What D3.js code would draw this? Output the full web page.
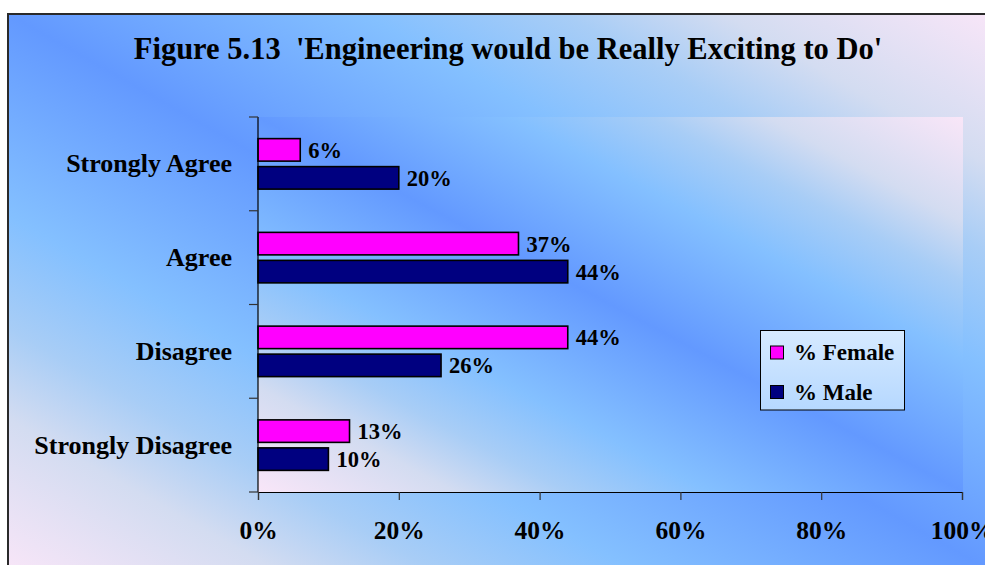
<!DOCTYPE html>
<html>
<head>
<meta charset="utf-8">
<script src="https://cdn.jsdelivr.net/npm/d3@7/dist/d3.min.js"></script>
<style>
  html, body { margin: 0; padding: 0; background: #ffffff; overflow: hidden; }
  svg { display: block; }
  text { font-family: "Liberation Serif", "Times New Roman", Times, serif; font-weight: bold; fill: #000; }
</style>
</head>
<body>
<svg id="chart" width="985" height="565"></svg>
<script>
// ---- data ----
const title = "Figure 5.13  'Engineering would be Really Exciting to Do'";
const categories = ["Strongly Agree", "Agree", "Disagree", "Strongly Disagree"];
const seriesNames = ["% Female", "% Male"];
const femaleValues = [6, 37, 44, 13];
const maleValues = [20, 44, 26, 10];
const xTickValues = [0, 20, 40, 60, 80, 100];
const seriesColors = ["#ff00ff", "#000080"];

// ---- layout ----
const W = 985, H = 565;
const plot = { left: 258, right: 962, top: 117, bottom: 492 };

const svg = d3.select("#chart");
const defs = svg.append("defs");

function diagGradient(id) {
  const g = defs.append("linearGradient").attr("id", id)
    .attr("x1", 0).attr("y1", 1).attr("x2", 1).attr("y2", 0);
  const stops = [
    [0, "#f9e6f8"], [0.14, "#d3dcf1"], [0.22, "#a8cdf6"], [0.32, "#84c0ff"],
    [0.5, "#6399ff"],
    [0.68, "#84c0ff"], [0.78, "#a8cdf6"], [0.86, "#d3dcf1"], [1, "#f9e6f8"]
  ];
  stops.forEach(s => g.append("stop").attr("offset", s[0]).attr("stop-color", s[1]));
}
diagGradient("bgGrad");
diagGradient("plotGrad");
const lg = defs.append("linearGradient").attr("id", "legGrad")
  .attr("x1", 0).attr("y1", 0).attr("x2", 0).attr("y2", 1);
lg.append("stop").attr("offset", 0).attr("stop-color", "#d6eaff");
lg.append("stop").attr("offset", 1).attr("stop-color", "#b6d8ff");

// outer chart area
svg.append("rect").attr("x", 8).attr("y", 14).attr("width", 992).attr("height", 562)
  .attr("fill", "url(#bgGrad)").attr("stroke", "#2a2a2a").attr("stroke-width", 2);

// plot area
svg.append("rect").attr("x", plot.left).attr("y", plot.top)
  .attr("width", plot.right - plot.left + 1).attr("height", plot.bottom - plot.top)
  .attr("fill", "url(#plotGrad)");

// title
svg.append("text").attr("x", 508).attr("y", 59).attr("text-anchor", "middle")
  .style("font-size", "30.5px").attr("xml:space", "preserve").text(title);

// scales
const x = d3.scaleLinear().domain([0, 100]).range([plot.left, plot.right]);
const y = d3.scaleBand().domain(categories).range([plot.top, plot.bottom]).padding(0);
const barH = 22.5, barGap = 5.5;
const barOffset = (y.bandwidth() - 2 * barH - barGap) / 2;

const rows = categories.map((c, i) => ({ cat: c, vals: [femaleValues[i], maleValues[i]] }));

// bars
const g = svg.append("g");
rows.forEach(r => {
  r.vals.forEach((v, s) => {
    const top = y(r.cat) + barOffset + s * (barH + barGap);
    g.append("rect")
      .attr("x", x(0)).attr("y", top)
      .attr("width", x(v) - x(0)).attr("height", barH)
      .attr("fill", seriesColors[s]).attr("stroke", "#000").attr("stroke-width", 1.6);
    g.append("text")
      .attr("x", x(v) + 8).attr("y", top + barH / 2).attr("dy", "0.35em")
      .style("font-size", "22.5px").text(v + "%");
  });
});

// x axis
const xAxis = d3.axisBottom(x).tickValues(xTickValues).tickSize(8).tickSizeOuter(8)
  .tickFormat(d => d + "%");
const xg = svg.append("g").attr("transform", `translate(0,${plot.bottom})`).call(xAxis);
xg.select(".domain").attr("stroke", "#000").attr("stroke-width", 1.2);
xg.selectAll(".tick line").attr("stroke", "#333").attr("stroke-width", 1.2);
xg.selectAll(".tick text").attr("y", 47).attr("dy", 0)
  .style("font-size", "25.5px").style("font-family", '"Liberation Serif", "Times New Roman", serif')
  .style("font-weight", "bold").attr("fill", "#000");

// y axis (ticks at band boundaries)
const boundaries = categories.map(c => y(c)).concat([plot.bottom]);
svg.append("line").attr("x1", x(0)).attr("x2", x(0))
  .attr("y1", plot.top).attr("y2", plot.bottom).attr("stroke", "#000").attr("stroke-width", 1.2);
svg.selectAll(".ytick").data(boundaries).enter().append("line")
  .attr("x1", x(0) - 9).attr("x2", x(0)).attr("y1", d => d).attr("y2", d => d)
  .attr("stroke", "#333").attr("stroke-width", 1.2);
svg.selectAll(".ylab").data(categories).enter().append("text")
  .attr("x", 232).attr("y", d => y(d) + y.bandwidth() / 2).attr("dy", "0.33em")
  .attr("text-anchor", "end").style("font-size", "26px").text(d => d);

// legend
const leg = svg.append("g");
leg.append("rect").attr("x", 760.5).attr("y", 330.5).attr("width", 144).attr("height", 79.5)
  .attr("fill", "url(#legGrad)").attr("stroke", "#000").attr("stroke-width", 1);
seriesNames.forEach((n, i) => {
  const cy = 352.5 + i * 39.5;
  leg.append("rect").attr("x", 770.5).attr("y", cy - 6.5).attr("width", 13).attr("height", 13)
    .attr("fill", seriesColors[i]).attr("stroke", "#000").attr("stroke-width", 1);
  leg.append("text").attr("x", 794).attr("y", cy).attr("dy", "0.34em")
    .style("font-size", "23px").text(n);
});
</script>
</body>
</html>
